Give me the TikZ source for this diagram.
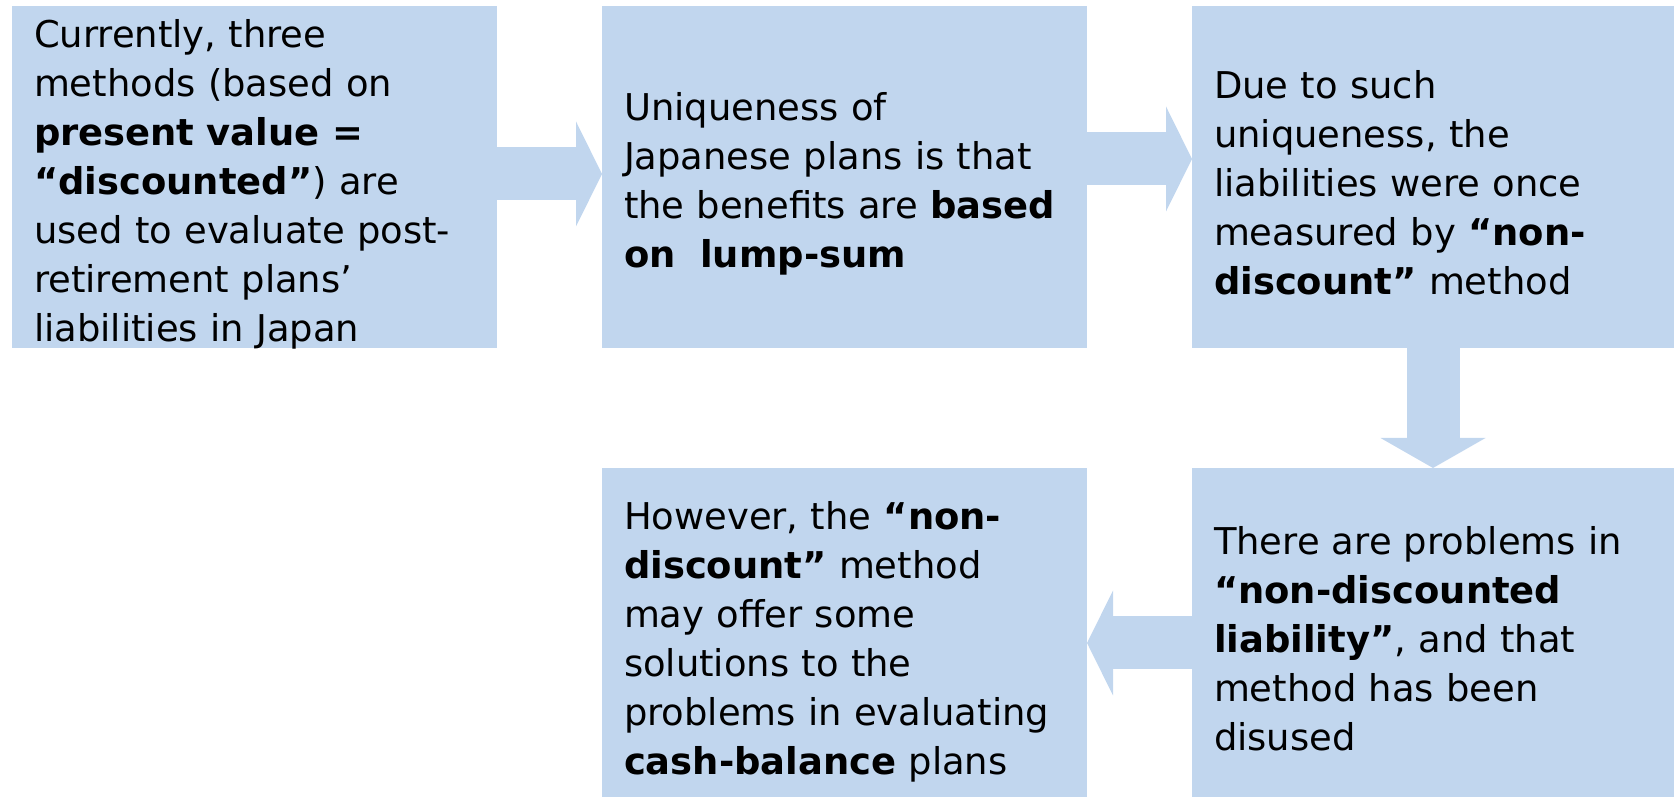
\documentclass[tikz,border=0pt]{standalone}
\usepackage{fontspec}
\setmainfont{DejaVu Sans}
\usetikzlibrary{arrows.meta}
\definecolor{boxblue}{RGB}{193,214,238}
\tikzset{
  box/.style={fill=boxblue, minimum width=4.85cm, minimum height=3.42cm,
    inner xsep=0.22cm, inner ysep=0pt, outer sep=0pt, text width=4.41cm,
    align=left, font=\fontsize{10.5pt}{13.94pt}\selectfont},
  lowbox/.style={box, minimum height=3.29cm},
  flow/.style={draw=boxblue, line width=0.53cm,
    -{Triangle[length=0.26cm, width=1.05cm, line width=0pt]}}
}
\begin{document}
\begin{tikzpicture}

\useasboundingbox (0,0) rectangle (16.74,7.97);

\node [box, text height=0.36cm, text depth=2.94cm] (methods) at (2.545,6.20) {Currently, three\\
  methods (based on\\ \textbf{present value =}\\ \textbf{“discounted”}) are\\
  used to evaluate post-\\ retirement plans’\\ liabilities in Japan};
\node [box, text height=0.418cm] (unique) at (8.445,6.20) {Uniqueness of\\
  Japanese plans is that\\ the benefits are \textbf{based}\\ \textbf{on\ \ lump-sum}};
\node [box, text height=0.39cm] (measured) at (14.345,6.20) {Due to such\\
  uniqueness, the\\ liabilities were once\\ measured by \textbf{“non-}\\
  \textbf{discount”} method};
\node [lowbox, text height=0.40cm] (problems) at (14.345,1.645) {There are problems in\\
  \textbf{“non-discounted}\\ \textbf{liability”}, and that\\ method has been\\ disused};
\node [lowbox, text height=0.468cm] (solutions) at (8.445,1.645) {However, the \textbf{“non-}\\
  \textbf{discount”} method\\ may offer some\\ solutions to the\\
  problems in evaluating\\ \textbf{cash-balance} plans};

\draw [flow] ([yshift=0.03cm]methods.east) -- ([yshift=0.03cm]unique.west);
\draw [flow] ([yshift=0.18cm]unique.east) -- ([yshift=0.18cm]measured.west);
\draw [flow, -{Triangle[length=0.3cm, width=1.05cm, line width=0pt]}]
  ([xshift=-0.015cm]measured.south) -- ([xshift=-0.015cm]problems.north);
\draw [flow] ([yshift=-0.105cm]problems.west) -- ([yshift=-0.105cm]solutions.east);

\end{tikzpicture}
\end{document}
